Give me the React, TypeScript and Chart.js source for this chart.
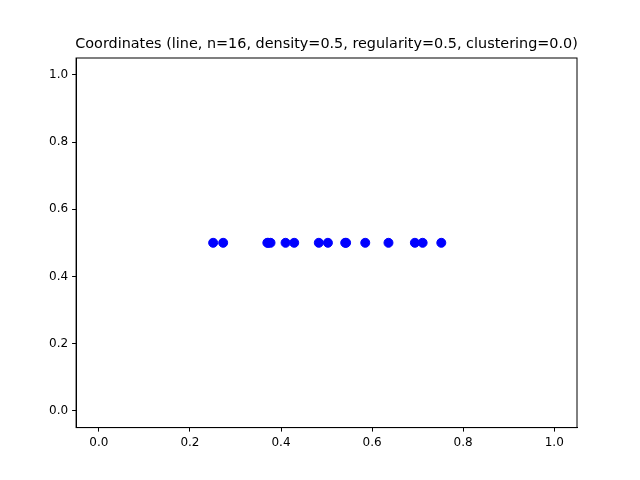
import React, { useEffect, useRef } from "react";
import { Chart, registerables } from "chart.js";
Chart.register(...registerables);

const xValues = [0.251, 0.273, 0.370, 0.372, 0.377, 0.410, 0.429, 0.483, 0.503, 0.541, 0.543, 0.585, 0.636, 0.694, 0.711, 0.752];
const yValue = 0.5;
const ticks = [0, 0.2, 0.4, 0.6, 0.8, 1.0];
const titleText = "Coordinates (line, n=16, density=0.5, regularity=0.5, clustering=0.0)";

export default function App() {
  const ref = useRef<HTMLCanvasElement>(null);
  useEffect(() => {
    document.body.style.margin = "0";
    const font = { family: "DejaVu Sans", size: 12 };
    const scale = (pos: string) => ({
      type: "linear" as const, position: pos, min: -0.05, max: 1.05,
      afterBuildTicks: (s: any) => { s.ticks = ticks.map((v) => ({ value: v })); },
      grid: { display: true, drawOnChartArea: false, drawTicks: true, tickLength: 4, tickColor: "#000" },
      border: { display: true, color: "#000" },
      ticks: { color: "#000", font, padding: 4, callback: (v: any) => Number(v).toFixed(1) },
    });
    const chart = new Chart(ref.current!, {
      type: "scatter",
      data: { datasets: [{ data: xValues.map((x) => ({ x, y: yValue })), backgroundColor: "#0000ff", borderColor: "#0000ff", pointRadius: 4.5 }] },
      options: {
        animation: false, responsive: false,
        layout: { padding: { left: 45, right: 63, top: 58, bottom: 26 } },
        plugins: { legend: { display: false }, tooltip: { enabled: false }, title: { display: false } },
        scales: { x: scale("bottom") as any, y: scale("left") as any },
      },
      plugins: [{ id: "frame", afterDraw(c: any) {
        const a = c.chartArea, g = c.ctx; g.save();
        g.strokeStyle = "#000"; g.lineWidth = 1;
        g.strokeRect(a.left, a.top, a.right - a.left, a.bottom - a.top);
        g.fillStyle = "#000"; g.font = "14.4px 'DejaVu Sans'"; g.textAlign = "center"; g.textBaseline = "alphabetic";
        g.fillText(titleText, (a.left + a.right) / 2, a.top - 10);
        g.restore(); } }],
    });
    return () => chart.destroy();
  }, []);
  return <canvas ref={ref} width={640} height={480} />;
}
